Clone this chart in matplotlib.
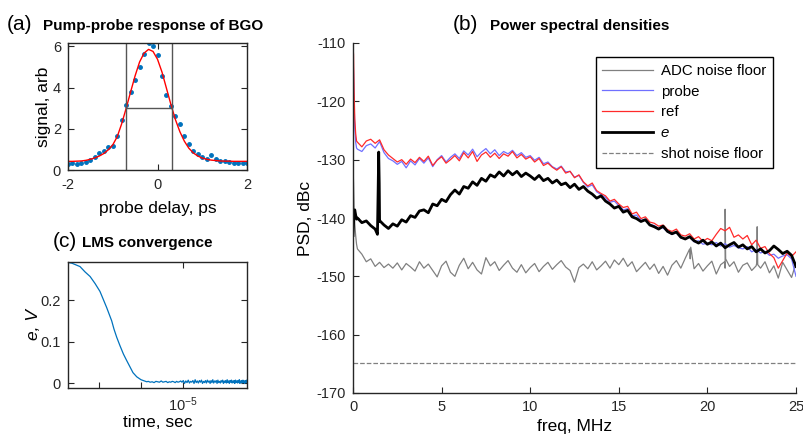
import numpy as np
import matplotlib
matplotlib.use("Agg")
import matplotlib.pyplot as plt
from matplotlib.ticker import FixedLocator, NullFormatter

plt.rcParams['font.family'] = ['Liberation Sans', 'DejaVu Sans']
plt.rcParams['mathtext.fontset'] = 'custom'
plt.rcParams['mathtext.rm'] = 'Liberation Sans'
plt.rcParams['mathtext.it'] = 'Liberation Sans:italic'
plt.rcParams['axes.linewidth'] = 1.0
plt.rcParams['axes.unicode_minus'] = False

AX_COLOR = '#262626'
MATLAB_BLUE = '#0072BD'

# ---- (a) pump-probe response ----
delay_ps = [-2.0, -1.9, -1.8, -1.7, -1.6, -1.5, -1.4, -1.3, -1.2, -1.1, -1.0,
            -0.9, -0.8, -0.7, -0.6, -0.5, -0.4, -0.3, -0.2, -0.1, 0.0,
            0.1, 0.2, 0.3, 0.4, 0.5, 0.6, 0.7, 0.8, 0.9, 1.0,
            1.1, 1.2, 1.3, 1.4, 1.5, 1.6, 1.7, 1.8, 1.9, 2.0]
signal_meas = [0.31, 0.35, 0.31, 0.32, 0.37, 0.48, 0.62, 0.82, 0.93, 1.10, 1.18,
               1.67, 2.43, 3.15, 3.78, 4.36, 5.02, 5.64, 6.16, 6.04, 5.60,
               4.57, 3.66, 3.10, 2.63, 2.22, 1.65, 1.25, 0.93, 0.76, 0.65,
               0.52, 0.71, 0.52, 0.45, 0.42, 0.40, 0.36, 0.34, 0.35, 0.35]
signal_fit = [0.42, 0.42, 0.43, 0.44, 0.47, 0.52, 0.59, 0.68, 0.80, 0.98, 1.22,
              1.62, 2.25, 3.00, 3.80, 4.58, 5.25, 5.68, 5.86, 5.76, 5.38,
              4.76, 3.97, 3.18, 2.45, 1.86, 1.40, 1.06, 0.83, 0.68, 0.58,
              0.52, 0.48, 0.46, 0.44, 0.43, 0.43, 0.42, 0.42, 0.42, 0.42]
fwhm_left, fwhm_right, half_max = -0.70, 0.33, 3.0

# ---- (c) LMS convergence ----
lms_t = [2.28e-6, 2.40e-6, 2.66e-6, 2.84e-6, 3.03e-6, 3.23e-6, 3.44e-6, 3.58e-6,
         3.75e-6, 4.00e-6, 4.12e-6, 4.27e-6, 4.45e-6, 4.65e-6, 4.84e-6, 5.06e-6,
         5.26e-6, 5.52e-6, 5.83e-6, 6.28e-6]
lms_e = [0.291, 0.289, 0.281, 0.268, 0.257, 0.240, 0.221, 0.203,
         0.182, 0.150, 0.130, 0.110, 0.090, 0.070, 0.055, 0.039,
         0.025, 0.015, 0.008, 0.003]
lms_tail = [0.004, 0.002, 0.003, 0.001, 0.004, 0.003, 0.002, 0.005, 0.002, 0.003,
            0.004, 0.001, 0.003, 0.002, 0.004, 0.003, 0.001, 0.004, 0.002, 0.003,
            0.005, 0.002,
            0.006, -0.001, 0.005, 0.001, 0.007, 0.000, 0.004, 0.002, 0.006, -0.001,
            0.008, 0.001, 0.005, 0.000, 0.006, 0.002, 0.007, -0.001, 0.004, 0.001,
            0.006, 0.000, 0.007, 0.002, 0.005, -0.001, 0.006, 0.001, 0.008, 0.000,
            0.005, 0.002, 0.006, -0.001, 0.007, 0.001, 0.004, 0.000, 0.006, 0.002,
            0.007, -0.001, 0.005, 0.001, 0.006, 0.000, 0.008, 0.001, 0.005, -0.001,
            0.006, 0.002, 0.007, 0.000, 0.005, 0.001, 0.006, -0.001, 0.007, 0.002,
            0.005, 0.000, 0.006, 0.001, 0.008, -0.001, 0.005, 0.002, 0.006, 0.000,
            0.007, 0.001, 0.005, -0.001, 0.006, 0.002, 0.007, 0.001]
lms_tail_start, lms_tail_end = 6.4e-6, 2.28e-5

# ---- (b) power spectral densities, dBc, on a 0.25 MHz grid plus the DC region ----
head_f = [0.0, 0.03, 0.06, 0.1, 0.15, 0.2]
probe_head = [-112.0, -115.0, -120.0, -124.5, -127.0, -128.0]
ref_head = [-110.5, -112.0, -118.0, -123.0, -125.5, -126.8]
e_head = [-143.0, -141.0, -139.0, -138.6, -139.5, -140.2]
adc_head = [-131.0, -134.0, -138.0, -141.0, -143.0, -144.5]

ref_psd = [-127.0, -127.8, -126.8, -126.5, -127.2, -126.6, -128.3, -129.2, -129.8, -130.4,
           -130.0, -130.8, -129.9, -130.5, -129.6, -130.3, -129.4, -131.0, -130.1, -129.5,
           -130.6, -130.0, -129.3, -130.2, -128.8, -129.7, -128.6, -130.3, -129.2, -128.7,
           -129.6, -128.9, -129.8, -129.0, -129.4, -128.6, -129.7, -129.1, -129.9, -129.5,
           -130.4, -129.8, -131.0, -130.6, -131.3, -131.8, -131.2, -132.3, -132.0, -133.1,
           -132.6, -133.8, -134.5, -134.0, -135.3, -135.8, -136.2, -137.1, -136.8, -137.6,
           -138.2, -138.0, -139.3, -139.0, -140.1, -139.8, -140.7, -140.9, -141.4, -141.2,
           -142.0, -142.3, -141.9, -142.9, -143.1, -142.7, -143.6, -143.2, -144.0, -143.5,
           -143.9, -142.8, -141.8, -142.2, -141.6, -143.3, -142.9, -143.6, -143.0, -144.6,
           -143.8, -145.2, -144.9, -146.1, -146.8, -148.6, -147.3, -146.0, -146.6, -145.8]
probe_psd = [-128.2, -128.6, -127.6, -127.3, -128.0, -126.9, -128.8, -129.8, -130.2, -130.8,
             -130.3, -131.4, -130.2, -130.9, -129.8, -130.6, -129.7, -131.2, -130.0, -129.3,
             -130.4, -129.6, -129.0, -129.8, -128.5, -129.2, -128.2, -129.5, -128.7, -128.1,
             -129.0, -128.3, -129.3, -128.6, -129.0, -128.4, -129.3, -128.8, -129.6, -129.3,
             -130.1, -129.6, -130.7, -130.4, -131.2, -131.6, -131.1, -132.1, -132.0, -133.0,
             -132.7, -133.9, -134.7, -134.3, -135.5, -136.0, -136.5, -137.3, -137.1, -137.9,
             -138.6, -138.4, -139.6, -139.5, -140.4, -140.2, -141.1, -141.3, -141.8, -141.7,
             -142.4, -142.8, -142.5, -143.4, -143.6, -143.3, -144.1, -143.9, -144.5, -144.3,
             -144.6, -144.2, -144.8, -144.4, -145.0, -144.7, -145.1, -145.3, -144.9, -145.8,
             -145.4, -146.0, -145.7, -146.4, -146.2, -146.9, -146.5, -146.3, -147.0, -150.0]
e_psd = [-140.0, -140.8, -140.5, -141.3, -141.9, -140.6, -141.2, -141.8, -141.0, -141.4,
         -140.3, -140.7, -139.6, -139.9, -138.8, -138.6, -139.1, -137.6, -137.9, -136.8,
         -137.2, -136.0, -135.2, -135.9, -134.6, -134.9, -133.8, -134.4, -133.2, -133.7,
         -132.6, -133.0, -132.1, -132.8, -131.9, -132.6, -132.0, -132.9, -132.3, -132.8,
         -133.4, -132.7, -133.6, -133.2, -134.0, -133.5, -134.3, -134.0, -134.8, -134.2,
         -135.1, -134.6, -135.4, -135.9, -136.6, -136.2, -137.1, -137.6, -138.3, -138.0,
         -139.0, -138.7, -139.8, -140.1, -140.6, -140.3, -141.2, -141.5, -141.9, -141.4,
         -142.3, -142.7, -142.4, -143.3, -143.6, -143.2, -143.9, -144.3, -143.8, -144.5,
         -144.1, -144.8, -144.3, -145.1, -144.6, -144.2, -145.0, -144.6, -145.3, -144.9,
         -145.8, -145.3, -146.0, -145.6, -144.8, -145.4, -146.1, -145.7, -146.4, -148.3]
adc_psd = [-145.3, -146.2, -147.5, -147.0, -148.3, -147.6, -148.5, -147.9, -148.6, -147.7,
           -148.9, -147.8, -148.4, -149.1, -147.5, -148.6, -147.9, -149.0, -150.1, -148.2,
           -147.4, -149.3, -150.0, -148.1, -146.9, -148.7, -147.6, -148.9, -149.6, -146.8,
           -148.2, -147.5, -149.0, -148.1, -147.3, -148.6, -149.3, -148.0, -149.4, -148.5,
           -147.8, -149.2, -148.3, -147.6, -148.8, -148.0, -147.3, -148.4, -149.0, -151.0,
           -148.5, -147.9, -148.7, -147.5, -148.9, -148.2, -147.4, -148.6, -147.2, -148.0,
           -146.9, -148.3, -147.5, -149.2, -148.4, -147.6, -148.8, -147.9, -149.5, -148.3,
           -149.8, -148.1, -147.3, -148.6, -146.9, -145.3, -148.7, -147.8, -149.1, -148.2,
           -147.4, -149.6, -148.0, -148.6, -148.3, -147.5, -149.3, -148.1, -147.7, -149.0,
           -148.2, -148.6, -147.5, -149.4, -148.2, -150.3, -147.6, -148.9, -150.2, -147.7]
# narrow spurs
e_spur_f = [1.38, 1.42, 1.45, 1.48, 1.52]
e_spur_v = [-142.8, -135.0, -128.7, -134.0, -140.5]
adc_spur_f = [19.03, 19.06, 20.97, 21.0, 21.03, 22.78, 22.81, 22.84]
adc_spur_v = [-147.0, -145.0, -147.5, -138.5, -147.0, -147.8, -141.5, -148.0]
shot_noise_level = -164.8
freq_max = 25.0

W, H = 804, 434
fig = plt.figure(figsize=(W / 100, H / 100), dpi=100)


def px_axes(left, top, right, bottom):
    return fig.add_axes([left / W, 1 - bottom / H, (right - left) / W, (bottom - top) / H])


def style(ax, box=True):
    for s in ax.spines.values():
        s.set_color(AX_COLOR)
    if not box:
        ax.spines['top'].set_visible(False)
        ax.spines['right'].set_visible(False)
    ax.tick_params(direction='in', length=4, width=0.8, colors=AX_COLOR,
                   labelsize=10.5, top=box, right=box, pad=5)


def trace(grid_vals, head_v, extra_f=None, extra_v=None):
    f = list(head_f) + list(np.arange(1, len(grid_vals) + 1) * freq_max / len(grid_vals))
    v = list(head_v) + list(grid_vals)
    if extra_f is not None:
        f += list(extra_f)
        v += list(extra_v)
    order = np.argsort(f, kind='stable')
    return np.array(f)[order], np.array(v)[order]


# (a)
ax_a = px_axes(68, 43, 247, 170)
ax_a.plot(delay_ps, signal_meas, '.', color=MATLAB_BLUE, markersize=5)
ax_a.plot(delay_ps, signal_fit, color='red', lw=1.0)
ax_a.axvline(fwhm_left, color='#555555', lw=1.0)
ax_a.axvline(fwhm_right, color='#555555', lw=1.0)
ax_a.plot([fwhm_left, fwhm_right], [half_max, half_max], color='#555555', lw=1.0)
ax_a.set_xlim(-2, 2)
ax_a.set_ylim(0, 6.17)
ax_a.set_xticks([-2, 0, 2])
ax_a.set_yticks([0, 2, 4, 6])
style(ax_a)
ax_a.tick_params(axis='x', pad=6)
ax_a.set_xlabel('probe delay, ps', fontsize=12.5, labelpad=6)
ax_a.set_ylabel('signal, arb', fontsize=12.5, labelpad=1)

# (c)
ax_c = px_axes(68, 262, 247, 388)
tail_t = np.linspace(lms_tail_start, lms_tail_end, len(lms_tail))
ax_c.plot(list(lms_t) + list(tail_t), list(lms_e) + list(lms_tail), color=MATLAB_BLUE, lw=0.9)
ax_c.set_xscale('log')
ax_c.set_xlim(2.28e-6, 2.28e-5)
ax_c.set_ylim(-0.012, 0.292)
ax_c.xaxis.set_major_locator(FixedLocator([1e-5]))
ax_c.xaxis.set_minor_locator(FixedLocator([3.4e-6, 5.8e-6]))
ax_c.xaxis.set_minor_formatter(NullFormatter())
ax_c.set_xticklabels(['$10^{-5}$'])
ax_c.set_yticks([0, 0.1, 0.2])
ax_c.set_yticklabels(['0', '0.1', '0.2'])
style(ax_c)
ax_c.tick_params(which='minor', direction='in', length=4, width=0.8, colors=AX_COLOR, top=False)
ax_c.set_xlabel('time, sec', fontsize=12.5, labelpad=1)
ax_c.set_ylabel('e, V', fontsize=12.5, fontstyle='italic', labelpad=0)

# (b)
ax_b = px_axes(353, 43, 796, 393)
fa, va = trace(adc_psd, adc_head, adc_spur_f, adc_spur_v)
fp, vp = trace(probe_psd, probe_head)
fr, vr = trace(ref_psd, ref_head)
fe, ve = trace(e_psd, e_head, e_spur_f, e_spur_v)
ax_b.plot(fa, va, color='#808080', lw=0.9, label='ADC noise floor')
ax_b.plot(fp, vp, color='#7070ff', lw=0.9, label='probe')
ax_b.plot(fr, vr, color='#ff2a2a', lw=0.9, label='ref')
ax_b.plot(fe, ve, color='black', lw=2.0, label='e')
ax_b.plot([0, freq_max], [shot_noise_level, shot_noise_level], '--', color='#808080',
          lw=0.9, label='shot noise floor')
ax_b.set_xlim(0, 25)
ax_b.set_ylim(-170, -110)
ax_b.set_xticks([0, 5, 10, 15, 20, 25])
ax_b.set_yticks([-170, -160, -150, -140, -130, -120, -110])
style(ax_b, box=False)
ax_b.set_xlabel('freq, MHz', fontsize=12.5, labelpad=4)
ax_b.set_ylabel('PSD, dBc', fontsize=12.5, labelpad=3)
leg = ax_b.legend(loc='upper right', bbox_to_anchor=(0.948, 0.96), fontsize=10.8,
                  frameon=True, fancybox=False, framealpha=1, edgecolor='black',
                  handlelength=3.4, handletextpad=0.5, labelspacing=0.45,
                  borderpad=0.45, borderaxespad=0)
leg.get_frame().set_linewidth(1.0)
leg.get_texts()[3].set_fontstyle('italic')


# titles
def title(x_tag, x_text, y, tag, text):
    fig.text(x_tag / W, 1 - y / H, tag, fontsize=15, va='baseline', ha='left')
    fig.text(x_text / W, 1 - y / H, text, fontsize=11, fontweight='bold', va='baseline', ha='left')


title(7, 43, 30, '(a)', 'Pump-probe response of BGO')
title(453, 490, 30, '(b)', 'Power spectral densities')
title(53, 82, 247, '(c)', 'LMS convergence')

fig.savefig('out.png', dpi=100)
